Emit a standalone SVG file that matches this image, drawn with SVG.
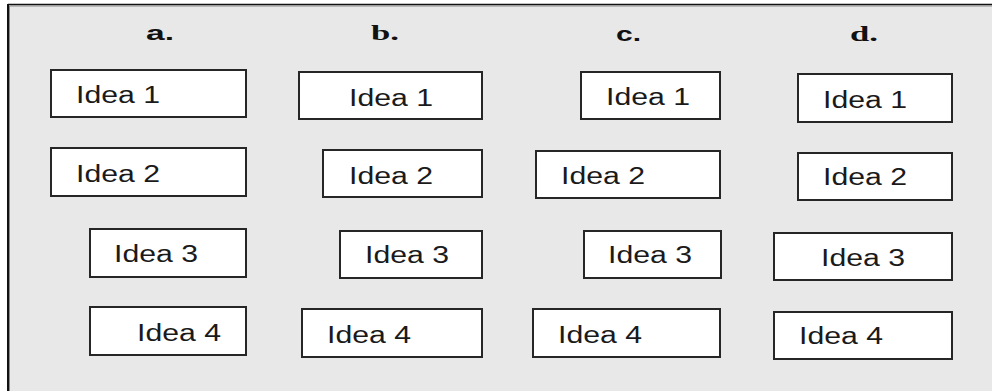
<svg xmlns="http://www.w3.org/2000/svg" width="992" height="391" viewBox="0 0 992 391">
<style>
.box{fill:#ffffff;stroke:#262626;stroke-width:2}
.t{font-family:"Liberation Sans",Arial,sans-serif;font-size:23px;fill:#1a1a1a}
.ls{font-family:"Liberation Sans",Arial,sans-serif;font-size:21px;font-weight:bold;fill:#111}
.lr{font-family:"Liberation Serif","Times New Roman",serif;font-size:22px;font-weight:bold;fill:#111}
</style>
<rect x="0" y="0" width="992" height="391" fill="#ffffff"/>
<rect x="8" y="4" width="984" height="387" fill="#e8e8e8"/>
<line x1="8" y1="4.5" x2="992" y2="4.5" stroke="#111" stroke-width="1.5"/>
<line x1="8" y1="6" x2="992" y2="6" stroke="#8a8a8a" stroke-width="1"/>
<line x1="8" y1="4" x2="8" y2="391" stroke="#111" stroke-width="2"/>
<line x1="9.5" y1="6" x2="9.5" y2="391" stroke="#8a8a8a" stroke-width="1"/>
<g id="labels">
<text class="ls" x="146" y="40" textLength="28" lengthAdjust="spacingAndGlyphs">a.</text>
<text class="lr" x="371" y="40" textLength="28" lengthAdjust="spacingAndGlyphs">b.</text>
<text class="ls" x="616" y="41" textLength="25" lengthAdjust="spacingAndGlyphs">c.</text>
<text class="lr" x="850" y="41" textLength="28" lengthAdjust="spacingAndGlyphs">d.</text>
</g>
<g id="a1"><rect class="box" x="51" y="70" width="195" height="47"/><text class="t" x="76" y="103" textLength="84" lengthAdjust="spacingAndGlyphs">Idea 1</text></g>
<g id="a2"><rect class="box" x="51" y="148" width="195" height="48"/><text class="t" x="76" y="182" textLength="84" lengthAdjust="spacingAndGlyphs">Idea 2</text></g>
<g id="a3"><rect class="box" x="90" y="229" width="156" height="48"/><text class="t" x="114" y="262" textLength="84" lengthAdjust="spacingAndGlyphs">Idea 3</text></g>
<g id="a4"><rect class="box" x="90" y="307" width="156" height="48"/><text class="t" x="137" y="341" textLength="84" lengthAdjust="spacingAndGlyphs">Idea 4</text></g>
<g id="b1"><rect class="box" x="299" y="72" width="183" height="47"/><text class="t" x="349" y="106" textLength="84" lengthAdjust="spacingAndGlyphs">Idea 1</text></g>
<g id="b2"><rect class="box" x="323" y="150" width="159" height="47"/><text class="t" x="349" y="184" textLength="84" lengthAdjust="spacingAndGlyphs">Idea 2</text></g>
<g id="b3"><rect class="box" x="340" y="231" width="142" height="47"/><text class="t" x="365" y="263" textLength="84" lengthAdjust="spacingAndGlyphs">Idea 3</text></g>
<g id="b4"><rect class="box" x="302" y="309" width="180" height="48"/><text class="t" x="327" y="343" textLength="84" lengthAdjust="spacingAndGlyphs">Idea 4</text></g>
<g id="c1"><rect class="box" x="581" y="72" width="139" height="47"/><text class="t" x="606" y="105" textLength="84" lengthAdjust="spacingAndGlyphs">Idea 1</text></g>
<g id="c2"><rect class="box" x="536" y="151" width="184" height="47"/><text class="t" x="561" y="184" textLength="84" lengthAdjust="spacingAndGlyphs">Idea 2</text></g>
<g id="c3"><rect class="box" x="584" y="231" width="137" height="47"/><text class="t" x="608" y="263" textLength="84" lengthAdjust="spacingAndGlyphs">Idea 3</text></g>
<g id="c4"><rect class="box" x="533" y="309" width="187" height="48"/><text class="t" x="558" y="343" textLength="84" lengthAdjust="spacingAndGlyphs">Idea 4</text></g>
<g id="d1"><rect class="box" x="798" y="74" width="154" height="48"/><text class="t" x="823" y="108" textLength="84" lengthAdjust="spacingAndGlyphs">Idea 1</text></g>
<g id="d2"><rect class="box" x="798" y="153" width="154" height="47"/><text class="t" x="823" y="185" textLength="84" lengthAdjust="spacingAndGlyphs">Idea 2</text></g>
<g id="d3"><rect class="box" x="774" y="233" width="178" height="47"/><text class="t" x="821" y="266" textLength="84" lengthAdjust="spacingAndGlyphs">Idea 3</text></g>
<g id="d4"><rect class="box" x="774" y="312" width="178" height="47"/><text class="t" x="799" y="344" textLength="84" lengthAdjust="spacingAndGlyphs">Idea 4</text></g>
<g id="connectors"></g>
</svg>
